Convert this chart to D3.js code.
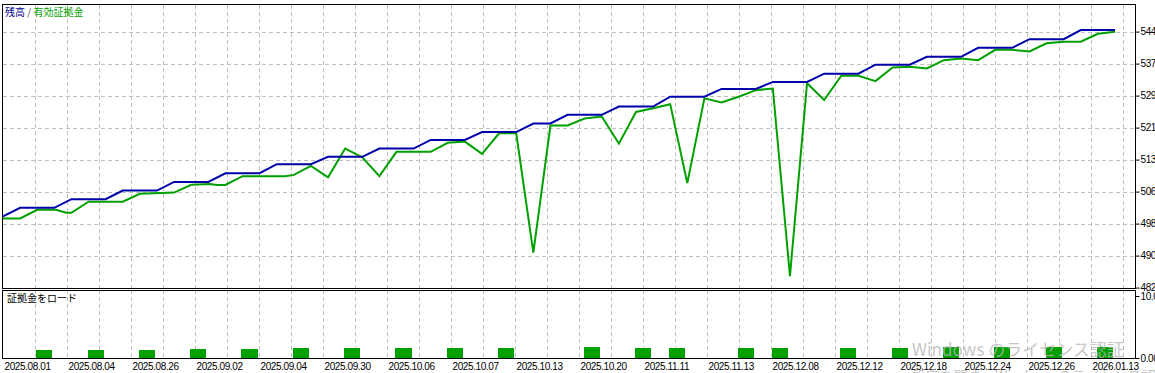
<!DOCTYPE html>
<html>
<head>
<meta charset="utf-8">
<script src="https://cdnjs.cloudflare.com/ajax/libs/d3/7.8.5/d3.min.js"></script>
<style>
  body { margin: 0; background: #fff; }
  svg { display: block; font-family: "Liberation Sans", Arial, sans-serif; }
  .jp { font-family: "Noto Sans CJK JP", sans-serif; }
</style>
</head>
<body>
<svg id="chart" width="1155" height="373"></svg>
<script>
// x positions are deal numbers
var dateLabels = ["2025.08.01", "2025.08.04", "2025.08.26", "2025.09.02", "2025.09.04", "2025.09.30",
  "2025.10.06", "2025.10.07", "2025.10.13", "2025.10.20", "2025.11.11", "2025.11.13",
  "2025.12.08", "2025.12.12", "2025.12.18", "2025.12.24", "2025.12.26", "2026.01.13"];

var yTickLabels = [482, 490, 498, 506, 513, 521, 529, 537, 544];
var yMin = 482.7, yStep = 7.78;

var balanceIdx = [0, 1, 3, 4, 6, 7, 9, 10, 12, 13, 15, 16, 18, 19, 21, 22, 24, 25, 27, 28, 30, 31, 32,
  33, 35, 36, 38, 39, 41, 42, 44, 45, 47, 48, 50, 51, 53, 54, 56, 57, 59, 60, 62, 63, 65];
var balanceVal = [500.0, 502.1, 502.1, 504.2, 504.2, 506.3, 506.3, 508.4, 508.4, 510.5, 510.5, 512.7, 512.7,
  514.5, 514.5, 516.5, 516.5, 518.6, 518.6, 520.5, 520.5, 522.6, 522.6, 524.7, 524.7, 526.7, 526.7,
  529.1, 529.1, 531.0, 531.0, 532.7, 532.7, 534.7, 534.7, 536.9, 536.9, 538.8, 538.8, 541.0, 541.0,
  543.1, 543.1, 545.3, 545.3];

var equityIdx = [0, 1, 2, 3.1, 3.7, 4, 5, 7, 8, 10, 11, 12.1, 12.5, 13, 14, 16.5, 17, 18, 19, 20,
  21, 22, 23, 25, 26, 27, 28, 29, 30, 31, 32, 33, 34, 35, 36, 37, 38, 39, 40, 41,
  42, 43, 44, 45, 46, 47, 48, 49, 50, 51, 52, 53, 54, 55, 56, 57, 58, 59, 60, 61,
  62, 63, 64, 65];
var equityVal = [499.5, 499.5, 501.6, 501.6, 500.9, 500.9, 503.6, 503.6, 505.5, 505.8, 507.7, 507.9, 507.65,
  507.65, 509.8, 509.8, 510.1, 512.3, 509.5, 516.5, 514.4, 509.8, 515.7, 515.7, 517.9, 518.2, 515.2,
  520.2, 520.2, 491.2, 522.1, 522.1, 523.8, 524.3, 517.7, 525.4, 526.3, 527.3, 508.1, 528.7, 527.7,
  529.1, 530.7, 531.1, 485.5, 532.4, 528.3, 534.2, 534.2, 532.9, 536.2, 536.4, 536.0, 538.0, 538.4,
  538.0, 540.5, 540.5, 540.1, 542.1, 542.5, 542.5, 544.4, 544.9];

var loadIdx = [2, 5, 8, 11, 14, 17, 20, 23, 26, 29, 34, 37, 39, 43, 45, 49, 52, 55, 58, 61, 64];
var loadVal = [1.3, 1.3, 1.3, 1.45, 1.45, 1.6, 1.6, 1.6, 1.6, 1.6, 1.75, 1.6, 1.6, 1.6, 1.6, 1.6, 1.6,
  1.75, 1.75, 1.75, 1.75];

chart();

function chart () {

  var svg = d3.select("#chart"),
      left = 3, right = 1135,
      topY = 4.5, topBottom = 288, botTop = 290, botBottom = 358;

  var x = d3.scaleLinear().domain([0, 65]).range([left, 1115]);
  // MT grid: a line every 32 px, a date label on every second one
  var grid = d3.scaleLinear().domain([0, 36]).range([left, left + 36 * 32]);
  var y = d3.scaleLinear().domain([yMin, yMin + 8 * yStep]).range([287.6, 31.6]);
  var yLoad = d3.scaleLinear().domain([0, 10]).range([botBottom, 296]);

  var yTickVals = yTickLabels.map(function(d, i) { return yMin + i * yStep; });

  var gridG = svg.append("g")
      .attr("stroke", "#c0c0c0")
      .attr("stroke-dasharray", "4,3")
      .attr("shape-rendering", "crispEdges");

  d3.range(1, 36).forEach(function(i) {
    var gx = Math.round(grid(i)) + 0.5;
    gridG.append("line").attr("x1", gx).attr("x2", gx).attr("y1", topY).attr("y2", topBottom);
    gridG.append("line").attr("x1", gx).attr("x2", gx).attr("y1", botTop).attr("y2", botBottom);
  });

  yTickVals.slice(1).forEach(function(v) {
    var gy = Math.round(y(v)) + 0.5;
    gridG.append("line").attr("x1", left).attr("x2", right).attr("y1", gy).attr("y2", gy);
  });

  // margin load bars
  svg.append("g")
      .attr("class", "load")
    .selectAll("rect")
      .data(loadIdx)
    .enter().append("rect")
      .attr("x", function(d) { return x(d - 0.06); })
      .attr("y", function(d, i) { return yLoad(loadVal[i]); })
      .attr("width", x(0.94) - x(0))
      .attr("height", function(d, i) { return yLoad(0) - yLoad(loadVal[i]); })
      .attr("fill", "#00a000")
      .attr("shape-rendering", "crispEdges");

  var line = d3.line()
      .x(function(d) { return x(d[0]); })
      .y(function(d) { return y(d[1]); });

  var equity = equityIdx.map(function(d, i) { return [d, equityVal[i]]; });
  var balance = balanceIdx.map(function(d, i) { return [d, balanceVal[i]]; });

  svg.append("path")
      .datum(equity)
      .attr("fill", "none")
      .attr("stroke", "#00a000")
      .attr("stroke-width", 2)
      .attr("d", line);

  svg.append("path")
      .datum(balance)
      .attr("fill", "none")
      .attr("stroke", "#0000a8")
      .attr("stroke-width", 2)
      .attr("d", line);

  // frames
  var frame = svg.append("g")
      .attr("fill", "none")
      .attr("stroke", "#000")
      .attr("shape-rendering", "crispEdges");
  frame.append("rect")
      .attr("x", left - 0.5).attr("y", topY)
      .attr("width", right - left + 1).attr("height", topBottom - topY);
  frame.append("rect")
      .attr("x", left - 0.5).attr("y", botTop + 0.5)
      .attr("width", right - left + 1).attr("height", botBottom - botTop);

  var yAxis = svg.append("g")
      .attr("transform", "translate(" + (right + 0.5) + ",0)")
      .call(d3.axisRight(y)
        .tickValues(yTickVals)
        .tickSize(4)
        .tickPadding(1)
        .tickFormat(function(d, i) { return yTickLabels[i]; }));
  yAxis.select(".domain").remove();

  var loadAxis = svg.append("g")
      .attr("transform", "translate(" + (right + 0.5) + ",0)")
      .call(d3.axisRight(yLoad)
        .tickValues([0, 10])
        .tickSize(4)
        .tickPadding(1)
        .tickFormat(function(d) { return d.toFixed(2) + "%"; }));
  loadAxis.select(".domain").remove();

  var xAxis = svg.append("g")
      .attr("transform", "translate(0," + botBottom + ")")
      .call(d3.axisBottom(grid)
        .tickValues(d3.range(0, 36, 2))
        .tickSize(0)
        .tickPadding(5)
        .tickFormat(function(d, i) { return dateLabels[i]; }));
  xAxis.select(".domain").remove();
  xAxis.selectAll("text")
      .attr("text-anchor", "start")
      .attr("x", 1);

  svg.selectAll(".tick text")
      .attr("fill", "#000")
      .attr("font-size", "10px")
      .attr("letter-spacing", "-0.4px")
      .attr("font-family", "'Liberation Sans', Arial, sans-serif");

  // legends
  var legend = svg.append("text")
      .attr("class", "jp")
      .attr("x", 5)
      .attr("y", 16)
      .attr("font-size", "10px");
  legend.append("tspan").attr("fill", "#00008b").text("残高");
  legend.append("tspan").attr("fill", "#555").text(" / ");
  legend.append("tspan").attr("fill", "#00a000").text("有効証拠金");

  svg.append("text")
      .attr("class", "jp")
      .attr("x", 7)
      .attr("y", 302)
      .attr("font-size", "10px")
      .attr("fill", "#000")
      .text("証拠金をロード");

  // Windows activation watermark over the screenshot
  svg.append("text")
      .attr("class", "jp")
      .attr("x", 912)
      .attr("y", 356)
      .attr("font-size", "17px")
      .attr("fill", "#b8b8b8")
      .attr("fill-opacity", 0.8)
      .text("Windows のライセンス認証");
  svg.append("text")
      .attr("class", "jp")
      .attr("x", 912)
      .attr("y", 381)
      .attr("font-size", "14px")
      .attr("fill", "#b8b8b8")
      .attr("fill-opacity", 0.8)
      .text("設定を開き、Windows のライセンス認証を行ってください。");
};
</script>
</body>
</html>
